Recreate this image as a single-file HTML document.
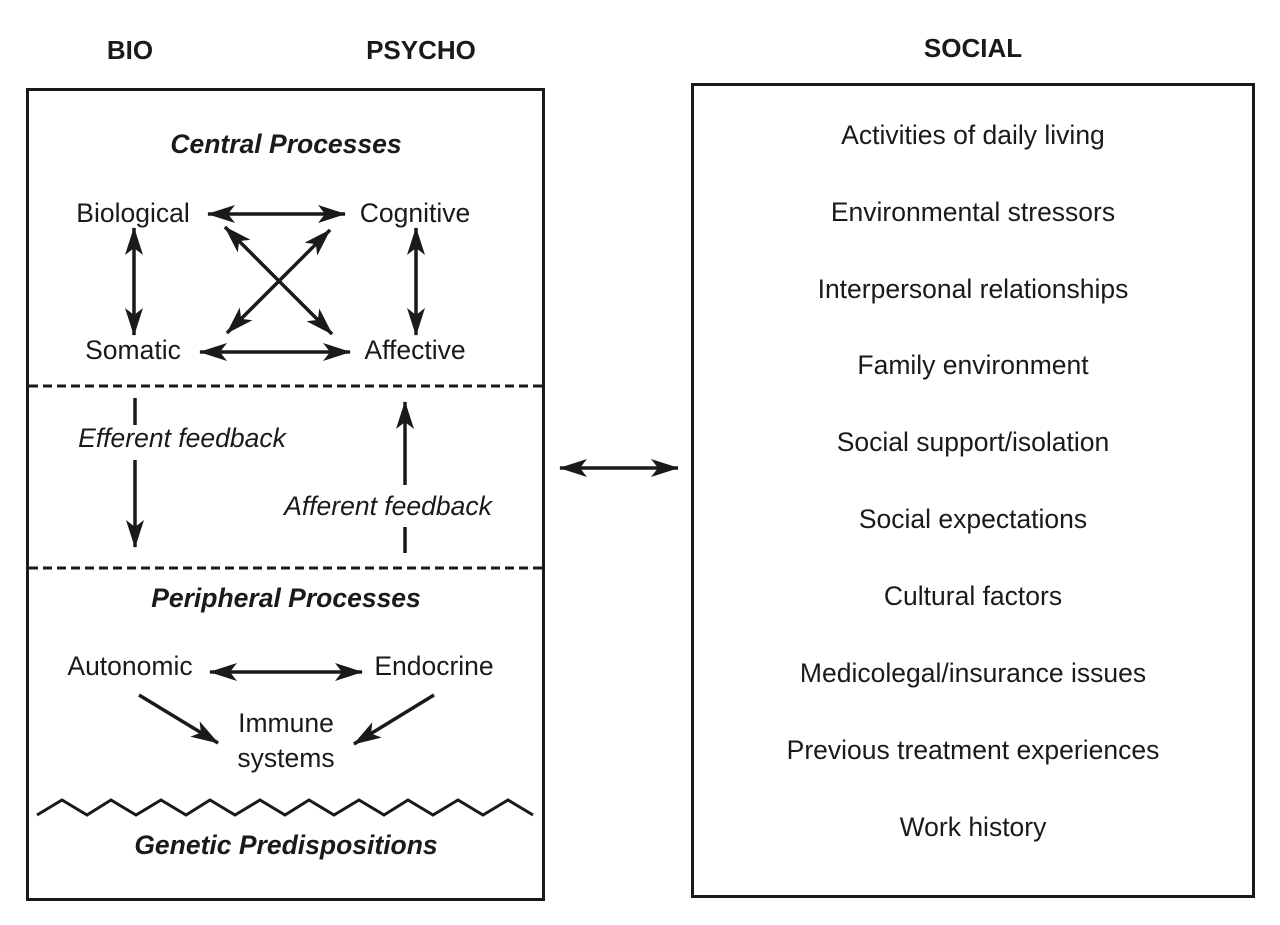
<!DOCTYPE html>
<html><head><style>
html,body{margin:0;padding:0;background:#fff;}
svg{display:block;}
text{font-family:"Liberation Sans",Arial,sans-serif;fill:#1a1a1a;}
</style></head><body>
<svg width="1280" height="925" viewBox="0 0 1280 925" xmlns="http://www.w3.org/2000/svg">
<defs>
<marker id="ah" viewBox="0 0 28 18" refX="27" refY="9" markerWidth="28" markerHeight="18" markerUnits="userSpaceOnUse" orient="auto-start-reverse">
<path d="M0,0 L28,9 L0,18 L7,9 Z" fill="#1a1a1a"/>
</marker>
</defs>
<g font-size="26">
<text x="130" y="59" text-anchor="middle" font-weight="bold">BIO</text>
<text x="421" y="59" text-anchor="middle" font-weight="bold">PSYCHO</text>
<text x="973" y="57" text-anchor="middle" font-weight="bold">SOCIAL</text>
</g>
<rect x="27.5" y="89.5" width="516" height="810" fill="none" stroke="#1a1a1a" stroke-width="3"/>
<rect x="692.5" y="84.5" width="561" height="812" fill="none" stroke="#1a1a1a" stroke-width="3"/>
<g font-size="26.5">
<text x="286" y="153" text-anchor="middle" font-weight="bold" font-style="italic">Central Processes</text>
<text x="133" y="222" text-anchor="middle">Biological</text>
<text x="415" y="222" text-anchor="middle">Cognitive</text>
<text x="133" y="359" text-anchor="middle">Somatic</text>
<text x="415" y="359" text-anchor="middle">Affective</text>
<text x="182" y="447" text-anchor="middle" font-style="italic">Efferent feedback</text>
<text x="388" y="515" text-anchor="middle" font-style="italic">Afferent feedback</text>
<text x="286" y="607" text-anchor="middle" font-weight="bold" font-style="italic">Peripheral Processes</text>
<text x="130" y="675" text-anchor="middle">Autonomic</text>
<text x="434" y="675" text-anchor="middle">Endocrine</text>
<text x="286" y="732" text-anchor="middle">Immune</text>
<text x="286" y="767" text-anchor="middle">systems</text>
<text x="286" y="854" text-anchor="middle" font-weight="bold" font-style="italic">Genetic Predispositions</text>
</g>
<g stroke="#1a1a1a" stroke-width="3.5" fill="none">
<line x1="208" y1="214" x2="345" y2="214" marker-start="url(#ah)" marker-end="url(#ah)"/>
<line x1="200" y1="352" x2="350" y2="352" marker-start="url(#ah)" marker-end="url(#ah)"/>
<line x1="134" y1="228" x2="134" y2="335" marker-start="url(#ah)" marker-end="url(#ah)"/>
<line x1="416" y1="228" x2="416" y2="335" marker-start="url(#ah)" marker-end="url(#ah)"/>
<line x1="225" y1="227" x2="332" y2="334" marker-start="url(#ah)" marker-end="url(#ah)"/>
<line x1="330" y1="230" x2="227" y2="333" marker-start="url(#ah)" marker-end="url(#ah)"/>
<line x1="135" y1="398" x2="135" y2="425"/>
<line x1="135" y1="460" x2="135" y2="547" marker-end="url(#ah)"/>
<line x1="405" y1="485" x2="405" y2="402" marker-end="url(#ah)"/>
<line x1="405" y1="527" x2="405" y2="553"/>
<line x1="210" y1="672" x2="362" y2="672" marker-start="url(#ah)" marker-end="url(#ah)"/>
<line x1="139" y1="695" x2="218" y2="743" marker-end="url(#ah)"/>
<line x1="434" y1="695" x2="354" y2="744" marker-end="url(#ah)"/>
<line x1="560" y1="468" x2="678" y2="468" marker-start="url(#ah)" marker-end="url(#ah)"/>
</g>
<g stroke="#1a1a1a" stroke-width="3" stroke-dasharray="9,5">
<line x1="29" y1="386" x2="542" y2="386"/>
<line x1="29" y1="568" x2="542" y2="568"/>
</g>
<polyline fill="none" stroke="#1a1a1a" stroke-width="3" points="37,815 62,800 87,815 111,800 136,815 161,800 186,815 210,800 235,815 260,800 285,815 309,800 334,815 359,800 384,815 408,800 433,815 458,800 483,815 508,800 533,815"/>
<g font-size="26.5" text-anchor="middle">
<text x="973" y="144">Activities of daily living</text>
<text x="973" y="221">Environmental stressors</text>
<text x="973" y="298">Interpersonal relationships</text>
<text x="973" y="374">Family environment</text>
<text x="973" y="451">Social support/isolation</text>
<text x="973" y="528">Social expectations</text>
<text x="973" y="605">Cultural factors</text>
<text x="973" y="682">Medicolegal/insurance issues</text>
<text x="973" y="759">Previous treatment experiences</text>
<text x="973" y="836">Work history</text>
</g>
</svg>
</body></html>
